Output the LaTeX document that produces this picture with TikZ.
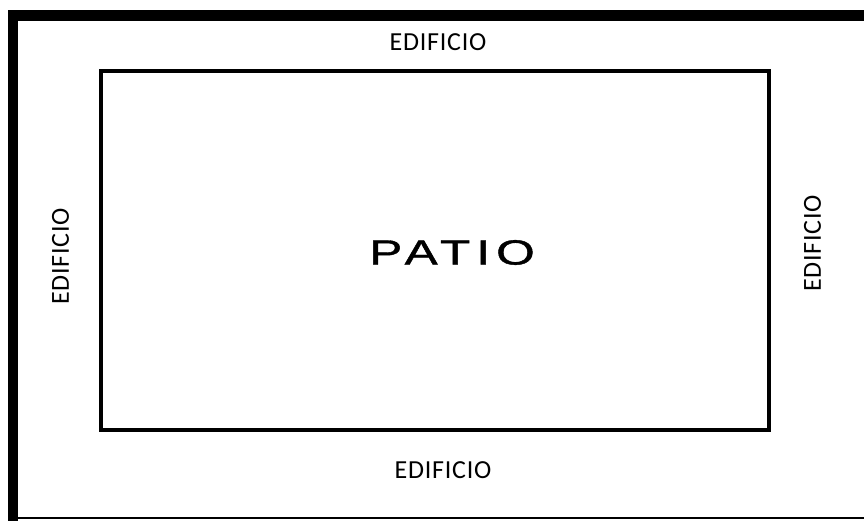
\documentclass[tikz,border=0pt]{standalone}
\usepackage{fontspec}
\setmainfont{Carlito}
\newfontfamily\ediffont[LetterSpace=3]{Carlito}
\newfontfamily\patiofont[LetterSpace=12,FakeBold=1]{Liberation Sans}
\begin{document}
\begin{tikzpicture}[x=1pt,y=-1pt,
  edif/.style={font=\ediffont\fontsize{26}{26}\selectfont, inner sep=0pt, text=black},
  wall/.style={draw=black, line width=3.5pt}]
\useasboundingbox (0,0) rectangle (864,521);
\fill[white] (0,0) rectangle (864,521);
% outer frame
\draw[line width=10.5pt, line join=miter] (870,15.5) -- (13,15.5) -- (13,521);
\draw[line width=2pt] (13,518) -- (870,518);
% inner courtyard
\node[wall, minimum width=668pt, minimum height=359pt, inner sep=0pt] (patio) at (435,250.5) {};
\node[inner sep=0pt, font=\patiofont\fontsize{35}{35}\selectfont, xscale=1.42] (lbl) at (452,252.5) {PATIO};
% labels
\node[edif] (top) at (438,42) {EDIFICIO};
\node[edif] (bot) at (443,470) {EDIFICIO};
\node[edif, rotate=90] (lft) at (60.5,256.5) {EDIFICIO};
\node[edif, rotate=90] (rgt) at (812.5,243.5) {EDIFICIO};
\end{tikzpicture}
\end{document}
